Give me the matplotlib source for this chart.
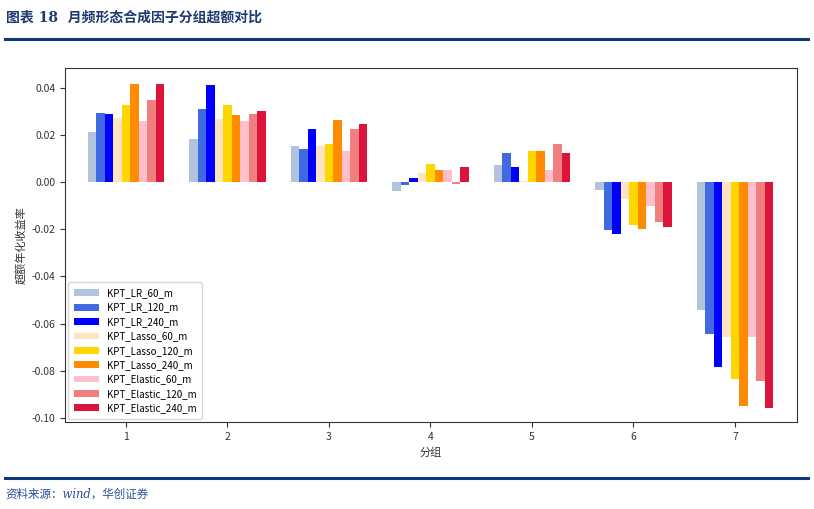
import matplotlib
matplotlib.use('Agg')
import matplotlib.pyplot as plt
import numpy as np

plt.rcParams['font.family'] = ['Noto Sans CJK SC', 'DejaVu Sans']
plt.rcParams['axes.unicode_minus'] = False

groups = [1, 2, 3, 4, 5, 6, 7]
series_names = ['KPT_LR_60_m', 'KPT_LR_120_m', 'KPT_LR_240_m',
                'KPT_Lasso_60_m', 'KPT_Lasso_120_m', 'KPT_Lasso_240_m',
                'KPT_Elastic_60_m', 'KPT_Elastic_120_m', 'KPT_Elastic_240_m']
series_colors = ['lightsteelblue', 'royalblue', 'blue',
                 'bisque', 'gold', 'darkorange',
                 'pink', 'lightcoral', 'crimson']

# excess annualised return per group, one list per factor
lr_60 = [0.0211, 0.0184, 0.0155, -0.0039, 0.0072, -0.0033, -0.0544]
lr_120 = [0.0294, 0.0311, 0.0139, -0.0014, 0.0124, -0.0204, -0.0644]
lr_240 = [0.0287, 0.0413, 0.0226, 0.0016, 0.0066, -0.0218, -0.0785]
lasso_60 = [0.0270, 0.0266, 0.0153, 0.0038, 0.0004, -0.0073, -0.0658]
lasso_120 = [0.0325, 0.0329, 0.0161, 0.0075, 0.0134, -0.0181, -0.0836]
lasso_240 = [0.0418, 0.0285, 0.0263, 0.0051, 0.0130, -0.0197, -0.0950]
elastic_60 = [0.0260, 0.0261, 0.0130, 0.0052, 0.0052, -0.0101, -0.0657]
elastic_120 = [0.0350, 0.0290, 0.0226, -0.0008, 0.0161, -0.0170, -0.0843]
elastic_240 = [0.0415, 0.0302, 0.0247, 0.0062, 0.0123, -0.0191, -0.0958]

all_series = [lr_60, lr_120, lr_240, lasso_60, lasso_120, lasso_240,
              elastic_60, elastic_120, elastic_240]

fig = plt.figure(figsize=(8.14, 5.09), dpi=100)
ax = fig.add_axes([0.0799, 0.171, 0.8991, 0.695])

x = np.array(groups, dtype=float)
n = len(all_series)
width = 0.0833
for k, (vals, name, col) in enumerate(zip(all_series, series_names, series_colors)):
    offs = (k - (n - 1) / 2.) * width
    ax.bar(x + offs, vals, width=width, color=col, label=name)

ax.set_xlim(0.40, 7.61)
ax.set_ylim(-0.1017, 0.0483)
ax.set_xticks(groups)
ax.set_yticks([0.04, 0.02, 0.0, -0.02, -0.04, -0.06, -0.08, -0.10])
ax.set_yticklabels(['0.04', '0.02', '0.00', '-0.02', '-0.04', '-0.06', '-0.08', '-0.10'])
ax.tick_params(labelsize=7.5, colors='#333333', length=3.5)
for sp in ax.spines.values():
    sp.set_color('#333333')
ax.set_xlabel('分组', fontsize=8, color='#333333')
ax.set_ylabel('超额年化收益率', fontsize=8, color='#333333')

ax.legend(loc='lower left', fontsize=7, handlelength=2.6, borderpad=0.6,
          labelspacing=0.45, framealpha=0.8, borderaxespad=0.3)

# title and source
navy = '#1F3A70'
fig.text(0.007, 0.965, '图表 18  月频形态合成因子分组超额对比', fontsize=10,
         fontweight='bold', color=navy, va='center', ha='left',
         family=['DejaVu Serif', 'Noto Sans CJK SC'])
fig.add_artist(plt.Line2D([0.006, 0.993], [0.924, 0.924], color='#0E3A7A', lw=2.2))
fig.add_artist(plt.Line2D([0.006, 0.993], [0.061, 0.061], color='#0E3A7A', lw=2.2))
fig.text(0.007, 0.030, '资料来源：wind，华创证券', fontsize=8.3, style='italic',
         color='#2C4E9A', va='center', ha='left',
         family=['DejaVu Serif', 'Noto Sans CJK SC'])

fig.savefig('out.png', dpi=100)
